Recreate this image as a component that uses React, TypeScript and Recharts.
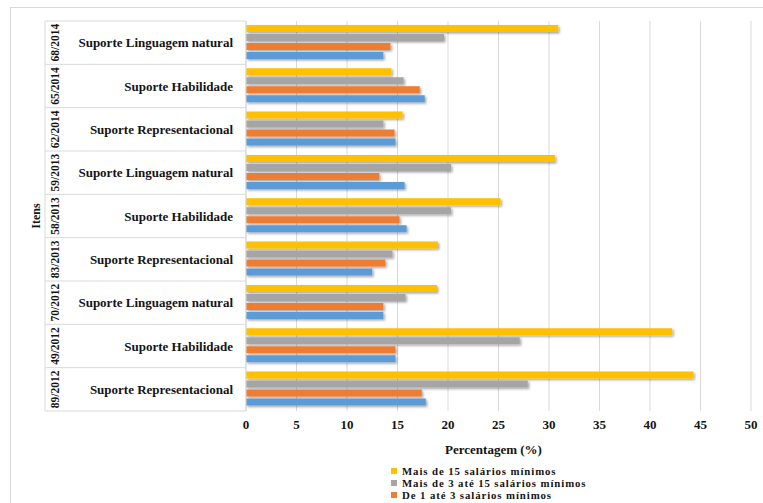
import { BarChart, Bar, XAxis, YAxis, CartesianGrid, Legend } from "recharts";

// item codes (top to bottom) and the support type of each item
const codes = ["68/2014", "65/2014", "62/2014", "59/2013", "58/2013", "83/2013", "70/2012", "49/2012", "89/2012"];
const labels = [
  "Suporte Linguagem natural",
  "Suporte Habilidade",
  "Suporte Representacional",
  "Suporte Linguagem natural",
  "Suporte Habilidade",
  "Suporte Representacional",
  "Suporte Linguagem natural",
  "Suporte Habilidade",
  "Suporte Representacional",
];

// percentage of correct answers by family income
const maisDe15 = [30.9, 14.4, 15.5, 30.6, 25.2, 19.0, 18.9, 42.2, 44.3];
const de3a15 = [19.6, 15.6, 13.6, 20.3, 20.3, 14.5, 15.8, 27.1, 27.9];
const de1a3 = [14.3, 17.2, 14.7, 13.2, 15.2, 13.8, 13.6, 14.8, 17.4];
const ate1 = [13.6, 17.7, 14.8, 15.7, 15.9, 12.5, 13.6, 14.8, 17.8];

const xTicks = [0, 5, 10, 15, 20, 25, 30, 35, 40, 45, 50];

const series = [
  { key: "maisDe15", name: "Mais de 15 salários mínimos", color: "#FFC000", inLegend: true },
  { key: "de3a15", name: "Mais de 3 até 15 salários mínimos", color: "#A5A5A5", inLegend: true },
  { key: "de1a3", name: "De 1 até 3 salários mínimos", color: "#ED7D31", inLegend: true },
  { key: "ate1", name: "Até 1 salário mínimo", color: "#5B9BD5", inLegend: false },
];

const data = codes.map((code, i) => ({
  code,
  label: labels[i],
  maisDe15: maisDe15[i],
  de3a15: de3a15[i],
  de1a3: de1a3[i],
  ate1: ate1[i],
}));

const FONT = "'Liberation Serif', 'Times New Roman', serif";
const TEXT = "#141414";
const LINE = "#d9d9d9";

const W = 763;
const H = 520;
const MARGIN = { top: 21, right: 12, left: 45, bottom: 79 };
const Y_AXIS_W = 201;
const X_AXIS_H = 30;
const PLOT_TOP = MARGIN.top;
const PLOT_BOTTOM = H - MARGIN.bottom - X_AXIS_H;
const BAND = (PLOT_BOTTOM - PLOT_TOP) / data.length;

// two-level category tick: rotated item code + support label, with table rules
function ItemTick(props: any) {
  const { y, index } = props;
  const top = y - BAND / 2;
  const bottom = y + BAND / 2;
  const left = MARGIN.left;
  const right = MARGIN.left + Y_AXIS_W;
  return (
    <g>
      <line x1={left} x2={right} y1={top} y2={top} stroke={LINE} />
      {index === data.length - 1 && <line x1={left} x2={right} y1={bottom} y2={bottom} stroke={LINE} />}
      <line x1={left} x2={left} y1={top} y2={bottom} stroke={LINE} />
      <text
        x={233}
        y={y}
        textAnchor="end"
        dominantBaseline="central"
        fontFamily={FONT}
        fontWeight="bold"
        fontSize={13}
        fill={TEXT}
      >
        {data[index].label}
      </text>
      <text
        transform={`translate(55 ${y}) rotate(-90)`}
        textAnchor="middle"
        dominantBaseline="central"
        fontFamily={FONT}
        fontWeight="bold"
        fontSize={11.5}
        fill={TEXT}
      >
        {data[index].code}
      </text>
    </g>
  );
}

function ItensLabel() {
  const cy = (PLOT_TOP + PLOT_BOTTOM) / 2;
  return (
    <text
      transform={`translate(36 ${cy}) rotate(-90)`}
      textAnchor="middle"
      dominantBaseline="central"
      fontFamily={FONT}
      fontWeight="bold"
      fontSize={12}
      fill={TEXT}
    >
      Itens
    </text>
  );
}

function LegendList() {
  return (
    <div style={{ fontFamily: FONT, fontWeight: "bold", fontSize: 10.8, letterSpacing: 0.9, lineHeight: "12px", color: TEXT, textAlign: "left" }}>
      {series.filter((s) => s.inLegend).map((s) => (
        <div key={s.key} style={{ display: "flex", alignItems: "center", whiteSpace: "nowrap", height: 12 }}>
          <span style={{ display: "inline-block", width: 6, height: 6, background: s.color, marginRight: 5 }} />
          {s.name}
        </div>
      ))}
    </div>
  );
}

export default function App() {
  return (
    <div style={{ position: "absolute", left: 0, top: 0, width: W, height: 503, overflow: "hidden", background: "#fff" }}>
      <div
        style={{
          position: "absolute",
          left: 10,
          top: 7,
          width: 800,
          height: 600,
          border: `1px solid ${LINE}`,
          boxSizing: "border-box",
        }}
      />
      <div style={{ position: "absolute", left: 0, top: 0 }}>
        <BarChart
          width={W}
          height={H}
          data={data}
          layout="vertical"
          margin={MARGIN}
          barCategoryGap="9%"
          barGap={2}
        >
          <defs>
            <filter id="barShadow" x="-5%" y="-40%" width="115%" height="200%">
              <feDropShadow dx={1.5} dy={1.5} stdDeviation={1} floodColor="#000" floodOpacity={0.35} />
            </filter>
          </defs>
          <CartesianGrid horizontal={false} stroke={LINE} />
          <XAxis
            type="number"
            domain={[0, 50]}
            ticks={xTicks}
            height={X_AXIS_H}
            axisLine={false}
            tickLine={false}
            tickMargin={3}
            tick={{ fontFamily: FONT, fontWeight: "bold", fontSize: 13, fill: TEXT }}
            label={{
              value: "Percentagem (%)",
              position: "bottom",
              offset: 4,
              dx: -5,
              style: { fontFamily: FONT, fontWeight: "bold", fontSize: 13, fill: TEXT },
            }}
          />
          <YAxis
            type="category"
            dataKey="code"
            width={Y_AXIS_W}
            axisLine={{ stroke: LINE }}
            tickLine={false}
            tick={<ItemTick />}
            interval={0}
            label={<ItensLabel />}
          />
          <Legend
            layout="horizontal"
            verticalAlign="middle"
            align="center"
            content={<LegendList />}
            wrapperStyle={{ left: 391, top: 465, width: 260 }}
          />
          {series.map((s) => (
            <Bar
              key={s.key}
              dataKey={s.key}
              name={s.name}
              fill={s.color}
              filter="url(#barShadow)"
              isAnimationActive={false}
            />
          ))}
        </BarChart>
      </div>
    </div>
  );
}
